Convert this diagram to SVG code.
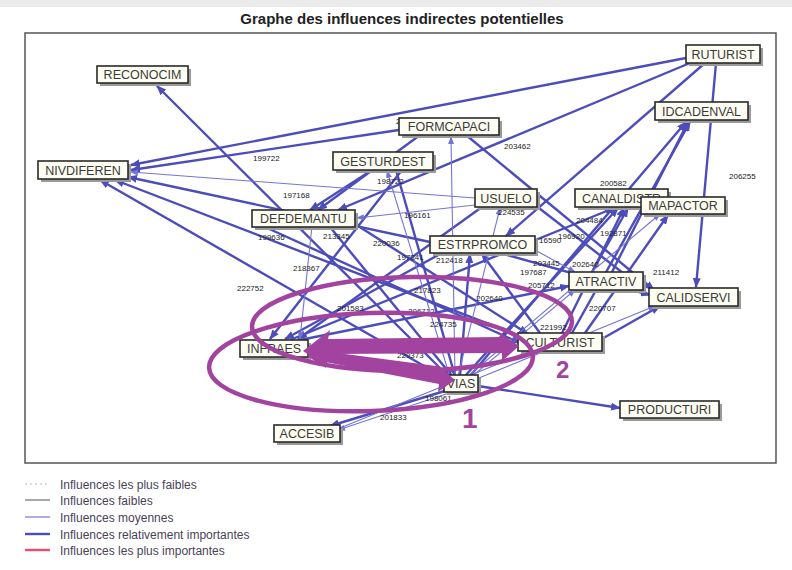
<svg xmlns="http://www.w3.org/2000/svg" width="792" height="570" viewBox="0 0 792 570">
<defs>
<style>
.t{stroke:#4c4cba;stroke-width:2.4;fill:none;marker-end:url(#a)}
.m{stroke:#7474d6;stroke-width:1.1;fill:none;marker-end:url(#b)}
.box{fill:#fdfdf2;stroke:#2a2a2a;stroke-width:1.6}
.sh{fill:#9a9a9a}
.nt{font-family:"Liberation Sans",Arial,sans-serif;font-size:12.5px;fill:#3a3a3a}
.num{font-family:"Liberation Sans",Arial,sans-serif;font-size:8px;fill:#222}
.lg{font-family:"Liberation Sans",Arial,sans-serif;font-size:12px;fill:#4a3f58}
.ann{fill:none;stroke:#a1439f;stroke-width:4.5}
</style>
<marker id="a" markerWidth="10" markerHeight="8" refX="9" refY="4" orient="auto" markerUnits="userSpaceOnUse"><path d="M0,0 L10,4 L0,8 z" fill="#4c4cba"/></marker>
<marker id="b" markerWidth="8" markerHeight="6" refX="7" refY="3" orient="auto" markerUnits="userSpaceOnUse"><path d="M0,0 L8,3 L0,6 z" fill="#7474d6"/></marker>
</defs>
<rect width="792" height="570" fill="#ffffff"/>
<rect width="792" height="7" fill="#ebebeb"/>
<text x="402" y="24" text-anchor="middle" font-family="'Liberation Sans',Arial,sans-serif" font-size="15" font-weight="bold" fill="#222">Graphe des influences indirectes potentielles</text>
<rect x="25" y="33" width="751" height="430" fill="none" stroke="#555" stroke-width="1.5"/>

<g id="connectors">
<line class="t" x1="686" y1="58" x2="131" y2="165"/>
<line class="t" x1="399" y1="130" x2="131" y2="170"/>
<line class="t" x1="448" y1="376" x2="157" y2="86"/>
<line class="t" x1="690" y1="63" x2="338" y2="210"/>
<line class="t" x1="420" y1="135" x2="318" y2="210"/>
<line class="t" x1="372" y1="170" x2="310" y2="210"/>
<line class="t" x1="705" y1="63" x2="506" y2="236"/>
<line class="t" x1="716" y1="63" x2="696" y2="287"/>
<line class="t" x1="466" y1="135" x2="654" y2="290"/>
<line class="t" x1="572" y1="333" x2="690" y2="122"/>
<line class="t" x1="612" y1="272" x2="688" y2="122"/>
<line class="t" x1="470" y1="376" x2="686" y2="122"/>
<line class="t" x1="562" y1="333" x2="624" y2="208"/>
<line class="t" x1="465" y1="376" x2="618" y2="208"/>
<line class="t" x1="585" y1="333" x2="668" y2="215"/>
<line class="t" x1="600" y1="340" x2="660" y2="306"/>
<line class="t" x1="460" y1="376" x2="470" y2="254"/>
<line class="t" x1="442" y1="253" x2="285" y2="339"/>
<line class="t" x1="330" y1="227" x2="452" y2="376"/>
<line class="t" x1="520" y1="336" x2="115" y2="180"/>
<line class="t" x1="445" y1="378" x2="100" y2="180"/>
<line class="t" x1="430" y1="242" x2="128" y2="177"/>
<line class="t" x1="482" y1="207" x2="298" y2="339"/>
<line class="t" x1="448" y1="390" x2="330" y2="426"/>
<line class="t" x1="478" y1="386" x2="620" y2="408"/>
<line class="t" x1="300" y1="340" x2="569" y2="286"/>
<line class="t" x1="500" y1="253" x2="650" y2="295"/>
<line class="t" x1="592" y1="272" x2="628" y2="208"/>
<line class="t" x1="290" y1="340" x2="614" y2="208"/>
<line class="t" x1="540" y1="333" x2="482" y2="254"/>
<line class="t" x1="396" y1="170" x2="455" y2="376"/>
<line class="t" x1="355" y1="224" x2="528" y2="334"/>
<line class="t" x1="265" y1="227" x2="520" y2="343"/>
<line class="t" x1="402" y1="170" x2="270" y2="339"/>
<line class="t" x1="535" y1="205" x2="645" y2="290"/>
<line class="m" x1="475" y1="198" x2="131" y2="172"/>
<line class="m" x1="475" y1="205" x2="357" y2="218"/>
<line class="m" x1="455" y1="376" x2="451" y2="137"/>
<line class="m" x1="450" y1="377" x2="387" y2="171"/>
<line class="m" x1="452" y1="392" x2="338" y2="430"/>
<line class="m" x1="458" y1="376" x2="500" y2="208"/>
<line class="m" x1="470" y1="378" x2="575" y2="290"/>
<line class="m" x1="474" y1="380" x2="655" y2="306"/>
<line class="m" x1="468" y1="376" x2="660" y2="214"/>
<line class="m" x1="535" y1="250" x2="575" y2="272"/>
<line class="m" x1="312" y1="226" x2="300" y2="339"/>
<line class="m" x1="340" y1="428" x2="530" y2="351"/>
</g>

<g id="labels">
<text class="num" x="253" y="161">199722</text>
<text class="num" x="283" y="198">197168</text>
<text class="num" x="377" y="184">198722</text>
<text class="num" x="404" y="218">196161</text>
<text class="num" x="258" y="240">199636</text>
<text class="num" x="323" y="239">213345</text>
<text class="num" x="373" y="246">220036</text>
<text class="num" x="397" y="260">197241</text>
<text class="num" x="436" y="263">212418</text>
<text class="num" x="293" y="271">218367</text>
<text class="num" x="237" y="291">222752</text>
<text class="num" x="504" y="149">203462</text>
<text class="num" x="729" y="179">206255</text>
<text class="num" x="396" y="124">2</text>
<text class="num" x="498" y="215">224535</text>
<text class="num" x="600" y="186">200582</text>
<text class="num" x="576" y="223">204484</text>
<text class="num" x="558" y="239">196920</text>
<text class="num" x="539" y="243">16590</text>
<text class="num" x="600" y="236">192871</text>
<text class="num" x="533" y="266">203445</text>
<text class="num" x="572" y="267">202640</text>
<text class="num" x="520" y="275">197687</text>
<text class="num" x="528" y="288">205712</text>
<text class="num" x="653" y="275">211412</text>
<text class="num" x="476" y="301">202640</text>
<text class="num" x="589" y="311">220707</text>
<text class="num" x="540" y="330">221992</text>
<text class="num" x="414" y="293">217823</text>
<text class="num" x="408" y="314">206712</text>
<text class="num" x="337" y="311">201583</text>
<text class="num" x="430" y="327">224735</text>
<text class="num" x="397" y="358">229373</text>
<text class="num" x="425" y="401">198061</text>
<text class="num" x="380" y="420">201833</text>
</g>

<g id="n-reconocim"><rect class="sh" x="100" y="69" width="91" height="17"/><rect class="box" x="97" y="66" width="91" height="17"/><text class="nt" x="142.5" y="79" text-anchor="middle">RECONOCIM</text></g>
<g id="n-nivdiferen"><rect class="sh" x="41" y="164" width="90" height="18"/><rect class="box" x="38" y="161" width="90" height="18"/><text class="nt" x="83" y="175" text-anchor="middle">NIVDIFEREN</text></g>
<g id="n-formcapaci"><rect class="sh" x="402" y="121" width="100" height="17"/><rect class="box" x="399" y="118" width="100" height="17"/><text class="nt" x="449" y="131" text-anchor="middle">FORMCAPACI</text></g>
<g id="n-gesturdest"><rect class="sh" x="336" y="155" width="100" height="18"/><rect class="box" x="333" y="152" width="100" height="18"/><text class="nt" x="383" y="166" text-anchor="middle">GESTURDEST</text></g>
<g id="n-ruturist"><rect class="sh" x="689" y="48" width="74" height="18"/><rect class="box" x="686" y="45" width="74" height="18"/><text class="nt" x="723" y="59" text-anchor="middle">RUTURIST</text></g>
<g id="n-idcadenval"><rect class="sh" x="658" y="105" width="93" height="18"/><rect class="box" x="655" y="102" width="93" height="18"/><text class="nt" x="701.5" y="116" text-anchor="middle">IDCADENVAL</text></g>
<g id="n-usuelo"><rect class="sh" x="478" y="192" width="62" height="18"/><rect class="box" x="475" y="189" width="62" height="18"/><text class="nt" x="506" y="203" text-anchor="middle">USUELO</text></g>
<g id="n-canaldistr"><rect class="sh" x="578" y="192" width="93" height="18"/><rect class="box" x="575" y="189" width="93" height="18"/><text class="nt" x="621.5" y="203" text-anchor="middle">CANALDISTR</text></g>
<g id="n-mapactor"><rect class="sh" x="644" y="200" width="84" height="17"/><rect class="box" x="641" y="197" width="84" height="17"/><text class="nt" x="683" y="210" text-anchor="middle">MAPACTOR</text></g>
<g id="n-defdemantu"><rect class="sh" x="255" y="213" width="103" height="17"/><rect class="box" x="252" y="210" width="103" height="17"/><text class="nt" x="303.5" y="223" text-anchor="middle">DEFDEMANTU</text></g>
<g id="n-estrpromco"><rect class="sh" x="433" y="239" width="105" height="17"/><rect class="box" x="430" y="236" width="105" height="17"/><text class="nt" x="482.5" y="249" text-anchor="middle">ESTRPROMCO</text></g>
<g id="n-atractiv"><rect class="sh" x="572" y="275" width="74" height="18"/><rect class="box" x="569" y="272" width="74" height="18"/><text class="nt" x="606" y="286" text-anchor="middle">ATRACTIV</text></g>
<g id="n-calidservi"><rect class="sh" x="652" y="291" width="89" height="18"/><rect class="box" x="649" y="288" width="89" height="18"/><text class="nt" x="693.5" y="302" text-anchor="middle">CALIDSERVI</text></g>
<g id="n-culturist"><rect class="sh" x="521" y="336" width="84" height="18"/><rect class="box" x="518" y="333" width="84" height="18"/><text class="nt" x="560" y="347" text-anchor="middle">CULTURIST</text></g>
<g id="n-infraes"><rect class="sh" x="243" y="343" width="68" height="17"/><rect class="box" x="240" y="340" width="68" height="17"/><text class="nt" x="274" y="353" text-anchor="middle">INFRAES</text></g>
<g id="n-vias"><rect class="sh" x="447" y="378" width="34" height="17"/><rect class="box" x="444" y="375" width="34" height="17"/><text class="nt" x="461" y="388" text-anchor="middle">VIAS</text></g>
<g id="n-producturi"><rect class="sh" x="623" y="404" width="99" height="17"/><rect class="box" x="620" y="401" width="99" height="17"/><text class="nt" x="669.5" y="414" text-anchor="middle">PRODUCTURI</text></g>
<g id="n-accesib"><rect class="sh" x="277" y="428" width="66" height="17"/><rect class="box" x="274" y="425" width="66" height="17"/><text class="nt" x="307" y="438" text-anchor="middle">ACCESIB</text></g>

<g id="annotations">
<ellipse class="ann" cx="371" cy="362" rx="162" ry="49" transform="rotate(-2 371 362)"/>
<ellipse class="ann" cx="412" cy="324" rx="160" ry="47" transform="rotate(-1 412 324)"/>
<polygon fill="#a1439f" points="303,351 330,330 328,339 500,337 500,333 519,346 502,361 502,353 328,354 327,367"/>
<polygon fill="#a1439f" points="307,356 328,348 330,352 436,366 434,362 455,380 438,392 439,384 325,362 326,368"/>
<text x="462" y="428" font-family="'Liberation Sans',Arial,sans-serif" font-size="28" font-weight="bold" fill="#a1439f">1</text>
<text x="556" y="378" font-family="'Liberation Sans',Arial,sans-serif" font-size="24" font-weight="bold" fill="#a1439f">2</text>
</g>

<g id="legend">
<line x1="25" y1="484" x2="50" y2="484" stroke="#9fb8d8" stroke-width="1" stroke-dasharray="2,3"/>
<line x1="25" y1="500" x2="50" y2="500" stroke="#6d6d6d" stroke-width="1.2"/>
<line x1="25" y1="517" x2="50" y2="517" stroke="#7474d6" stroke-width="1.2"/>
<line x1="25" y1="534" x2="50" y2="534" stroke="#4c4cba" stroke-width="2.4"/>
<line x1="25" y1="550" x2="50" y2="550" stroke="#e8506a" stroke-width="2.4"/>
<text class="lg" x="60" y="489">Influences les plus faibles</text>
<text class="lg" x="60" y="505">Influences faibles</text>
<text class="lg" x="60" y="522">Influences moyennes</text>
<text class="lg" x="60" y="539">Influences relativement importantes</text>
<text class="lg" x="60" y="555">Influences les plus importantes</text>
</g>
</svg>
